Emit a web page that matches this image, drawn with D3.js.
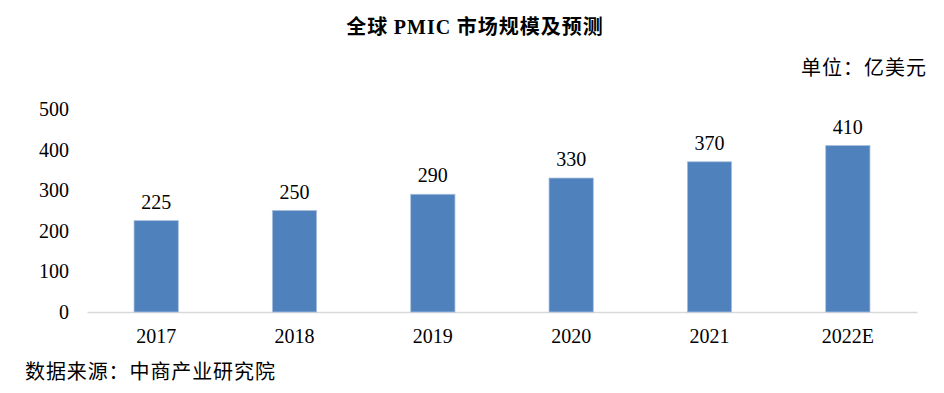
<!DOCTYPE html>
<html>
<head>
<meta charset="utf-8">
<script src="https://cdn.jsdelivr.net/npm/d3@7"></script>
<style>
  body { margin: 0; background: #fff; }
  svg { display: block; }
</style>
</head>
<body>
<script>
// data
var years = ["2017", "2018", "2019", "2020", "2021", "2022E"];
var values = [225, 250, 290, 330, 370, 410];
var yTicks = [0, 100, 200, 300, 400, 500];

var W = 944, H = 393;
var margin = {top: 109, right: 27, bottom: 81, left: 87};
var width = W - margin.left - margin.right;
var height = H - margin.top - margin.bottom;

var serif = "'Liberation Serif', 'Times New Roman', serif";
var cjk = "'Noto Sans CJK SC', 'Noto Sans', sans-serif";

var svg = d3.select("body").append("svg")
    .attr("width", W)
    .attr("height", H);

var g = svg.append("g")
    .attr("transform", "translate(" + margin.left + "," + margin.top + ")");

//scales
var x = d3.scaleBand()
    .domain(years)
    .range([0, width])
    .paddingInner(0.68)
    .paddingOuter(0.34);

var y = d3.scaleLinear()
    .domain([0, 500])
    .range([height, 0]);

//title
svg.append("text")
    .attr("x", 475)
    .attr("y", 34)
    .attr("text-anchor", "middle")
    .attr("font-size", "20px")
    .attr("font-weight", "bold")
    .attr("letter-spacing", "1px")
    .style("fill", "#000")
    .selectAll("tspan")
    .data([["全球 ", cjk], ["PMIC", serif], [" 市场规模及预测", cjk]])
    .enter().append("tspan")
        .attr("font-family", (d) => d[1])
        .text((d) => d[0]);

//unit
svg.append("text")
    .attr("x", 927)
    .attr("y", 75)
    .attr("text-anchor", "end")
    .attr("font-family", cjk)
    .attr("font-size", "20px")
    .attr("letter-spacing", "1px")
    .style("fill", "#000")
    .text("单位：亿美元");

//source
svg.append("text")
    .attr("x", 25)
    .attr("y", 379)
    .attr("font-family", cjk)
    .attr("font-size", "20px")
    .attr("letter-spacing", "0.9px")
    .style("fill", "#000")
    .text("数据来源：中商产业研究院");

//left axis (labels only)
var leftAxis = d3.axisLeft(y).tickValues(yTicks).tickSize(0).tickPadding(18);
g.append("g")
    .attr("class", "left axis")
    .call(leftAxis)
    .call((a) => a.select(".domain").remove())
    .selectAll("text")
        .attr("font-family", serif)
        .attr("font-size", "20px")
        .style("fill", "#000");

//bottom axis
var bottomAxis = d3.axisBottom(x).tickSize(0).tickPadding(17);
var bx = g.append("g")
    .attr("class", "bottom axis")
    .attr("transform", "translate(0," + height + ")")
    .call(bottomAxis);
bx.select(".domain").attr("stroke", "#d9d9d9").attr("stroke-width", 1.5);
bx.selectAll("text")
    .attr("font-family", serif)
    .attr("font-size", "20px")
    .style("fill", "#000");

//bars
g.selectAll("rect.bar").data(values)
    .enter().append("rect")
        .attr("class", "bar")
        .attr("x", (d, i) => x(years[i]))
        .attr("y", (d) => y(d))
        .attr("width", x.bandwidth())
        .attr("height", (d) => height - y(d))
        .attr("fill", "#4f81bd")
        .attr("stroke", "#a9c0de")
        .attr("stroke-width", 0.8);

//value labels
g.selectAll("text.val").data(values)
    .enter().append("text")
        .attr("class", "val")
        .attr("x", (d, i) => x(years[i]) + x.bandwidth() / 2)
        .attr("y", (d) => y(d) - 12)
        .attr("text-anchor", "middle")
        .attr("font-family", serif)
        .attr("font-size", "20px")
        .style("fill", "#000")
        .text((d) => d);
</script>
</body>
</html>
